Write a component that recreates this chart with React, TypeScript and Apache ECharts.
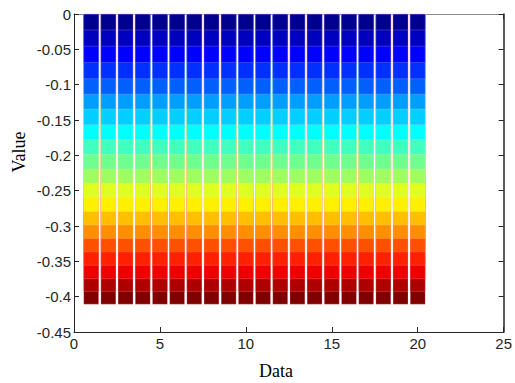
import React, { useEffect, useRef } from "react";
import * as echarts from "echarts";

// Bar positions (Data axis)
const positions = [1, 2, 3, 4, 5, 6, 7, 8, 9, 10, 11, 12, 13, 14, 15, 16, 17, 18, 19, 20];
// Cumulative depth of each colour band, top to bottom
const bandBottoms = [
  0.023, 0.046, 0.069, 0.092, 0.114, 0.135, 0.157, 0.178, 0.199, 0.220,
  0.240, 0.260, 0.280, 0.299, 0.318, 0.337, 0.356, 0.375, 0.393, 0.411,
];
// Band colours (jet-like)
const bandColors = [
  "#00008f", "#0000bf", "#0000ff", "#0030ff", "#0060ff", "#009fff", "#00cfff",
  "#00ffff", "#40ffbf", "#70ff8f", "#9fff60", "#dfff20", "#ffef00", "#ffbf00",
  "#ff8f00", "#ff5000", "#ff2000", "#ef0000", "#af0000", "#800000",
];
const xTicks = { min: 0, max: 25, interval: 5 };
const yTicks = { min: -0.45, max: 0, interval: 0.05 };
const xName = "Data";
const yName = "Value";

export default function App() {
  const ref = useRef<HTMLDivElement>(null);
  useEffect(() => {
    if (!ref.current) return;
    const chart = echarts.init(ref.current, undefined, { renderer: "svg" });
    const axisColor = "#262626";
    const labelFont = { fontFamily: "Liberation Sans, Arial, sans-serif", fontSize: 15, color: "#262626" };
    const nameFont = "18px 'Liberation Serif', 'Times New Roman', serif";
    // Deepest band first; each shallower band is drawn over it (overlapping bars)
    const order = bandBottoms.map((_, i) => bandBottoms.length - 1 - i);
    const series = order.map((i) => ({
      type: "bar" as const,
      barWidth: 15.5,
      barGap: "-100%",
      xAxisIndex: 0,
      yAxisIndex: 0,
      z: 2 + (bandBottoms.length - i) * 0.01,
      itemStyle: { color: bandColors[i], borderColor: "rgba(255,220,220,0.35)", borderWidth: 0.6 },
      data: positions.map((p) => [p, -bandBottoms[i]]),
    }));
    chart.setOption({
      animation: false,
      grid: { left: 74, right: 10, top: 14, bottom: 51 },
      graphic: [
        {
          type: "text",
          x: 276,
          y: 371,
          style: { text: xName, font: nameFont, fill: "#000", textAlign: "center", textVerticalAlign: "middle" },
        },
        {
          type: "text",
          x: 18.5,
          y: 152,
          rotation: Math.PI / 2,
          style: { text: yName, font: nameFont, fill: "#000", textAlign: "center", textVerticalAlign: "middle" },
        },
      ],
      xAxis: [
        {
          type: "value",
          ...xTicks,
          position: "bottom",
          axisLine: { show: true, onZero: false, lineStyle: { color: axisColor, width: 1 } },
          axisTick: { show: true, inside: true, length: 5, lineStyle: { color: axisColor } },
          axisLabel: { ...labelFont, margin: 4 },
          splitLine: { show: false },
        },
        {
          type: "value",
          ...xTicks,
          position: "top",
          axisLine: { show: true, onZero: false, lineStyle: { color: "#8c8c8c", width: 1 } },
          axisTick: { show: true, inside: true, length: 5, lineStyle: { color: axisColor } },
          axisLabel: { show: false },
          splitLine: { show: false },
        },
      ],
      yAxis: [
        {
          type: "value",
          ...yTicks,
          position: "left",
          axisLine: { show: true, onZero: false, lineStyle: { color: axisColor, width: 1 } },
          axisTick: { show: true, inside: true, length: 5, lineStyle: { color: axisColor } },
          axisLabel: { ...labelFont, margin: 3 },
          splitLine: { show: false },
        },
        {
          type: "value",
          ...yTicks,
          position: "right",
          axisLine: { show: true, onZero: false, lineStyle: { color: axisColor, width: 1.5 } },
          axisTick: { show: true, inside: true, length: 5, lineStyle: { color: axisColor } },
          axisLabel: { show: false },
          splitLine: { show: false },
        },
      ],
      series,
    });
    return () => chart.dispose();
  }, []);
  return <div ref={ref} style={{ width: 515, height: 383, position: "absolute", left: 0, top: 0, background: "#fff" }} />;
}
